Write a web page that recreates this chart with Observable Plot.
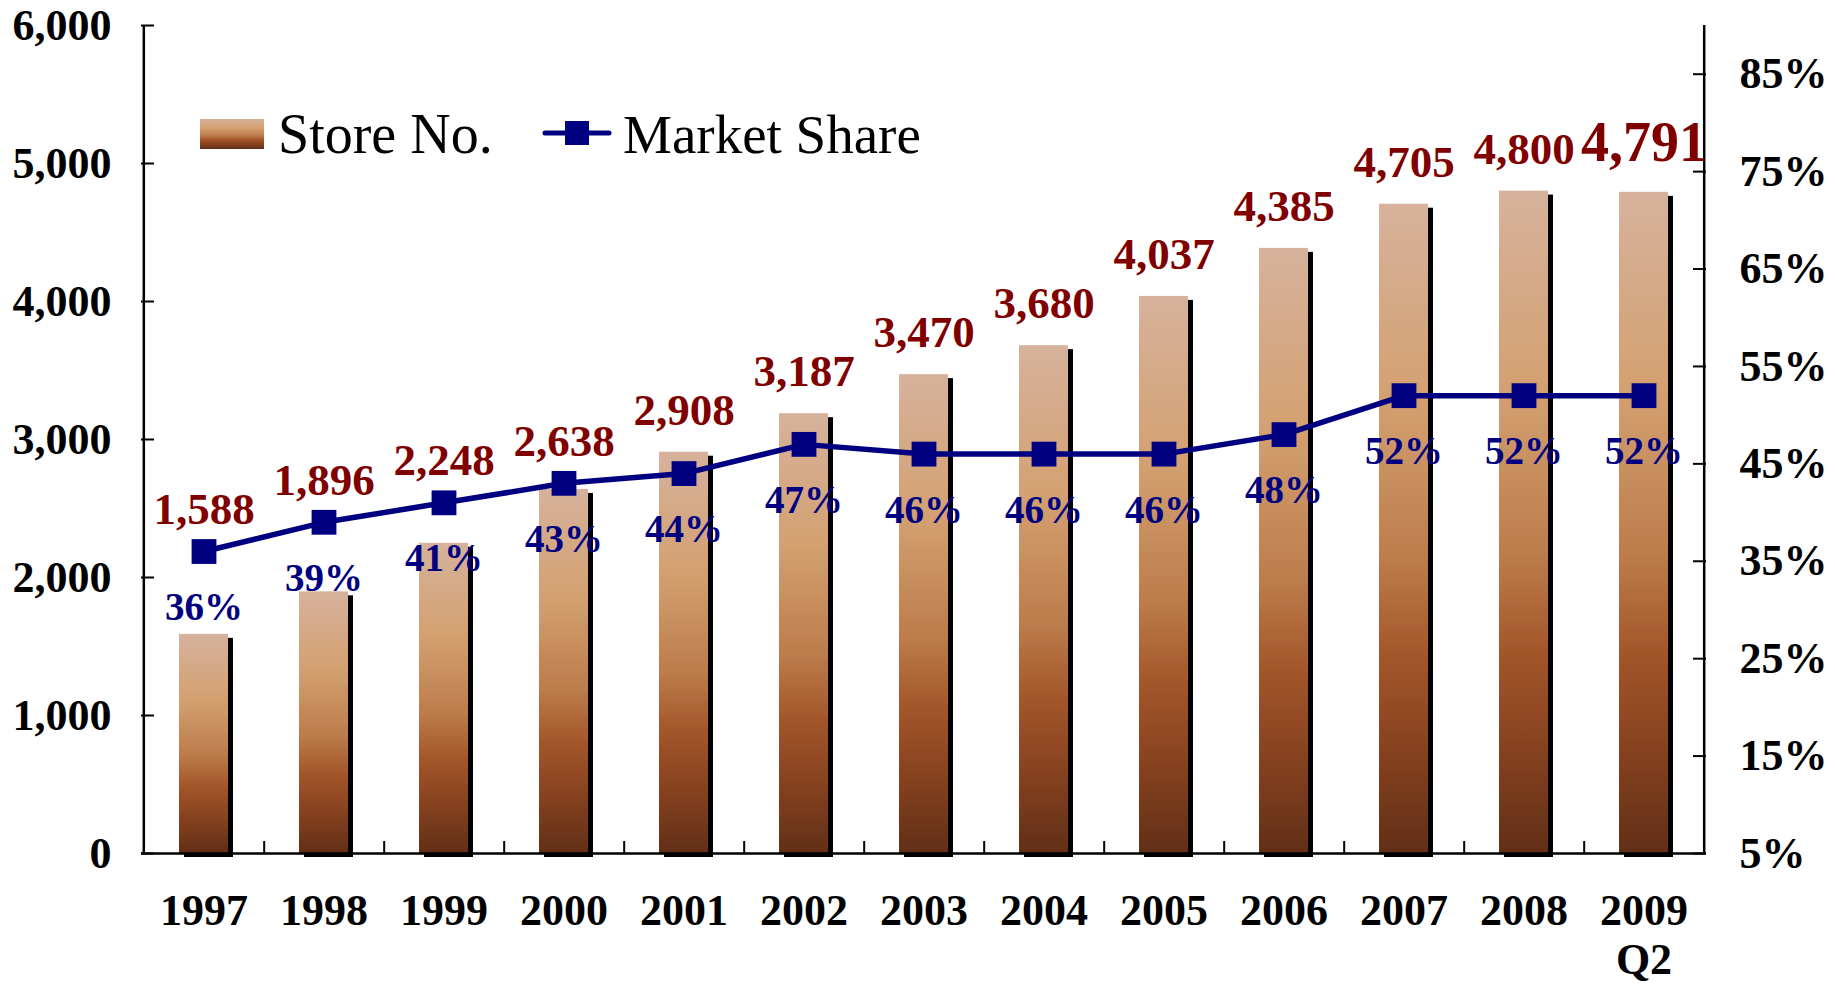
<!DOCTYPE html>
<html>
<head>
<meta charset="utf-8">
<script src="https://cdn.jsdelivr.net/npm/d3@7"></script>
<script src="https://cdn.jsdelivr.net/npm/@observablehq/plot@0.6"></script>
<style>
html, body { margin: 0; padding: 0; background: #fff; }
#wrap { position: relative; width: 1835px; height: 987px; overflow: hidden; }
#legend { position: absolute; left: 0; top: 0; pointer-events: none; }
</style>
</head>
<body>
<div id="wrap"></div>
<script>
// ---- data ----
const years = ["1997", "1998", "1999", "2000", "2001", "2002", "2003", "2004", "2005", "2006", "2007", "2008", "2009\nQ2"];
const stores = [1588, 1896, 2248, 2638, 2908, 3187, 3470, 3680, 4037, 4385, 4705, 4800, 4791];
const shares = [36, 39, 41, 43, 44, 47, 46, 46, 46, 48, 52, 52, 52];
const leftTicks = [0, 1000, 2000, 3000, 4000, 5000, 6000];
const rightTicks = [5, 15, 25, 35, 45, 55, 65, 75, 85];
const storeDomain = [0, 6000];
const shareDomain = [5, 90];
const legendLabels = ["Store No.", "Market Share"];

// ---- layout ----
const W = 1835, H = 987, mL = 141, mR = 129, mT = 25, mB = 134;
const plotW = W - mL - mR, plotH = H - mT - mB;
const step = plotW / years.length;
const font = "'Liberation Serif', 'Times New Roman', Times, serif";
const navy = "#000080", maroon = "#800000";

// map share (%) onto the store scale (secondary axis)
const toStore = s => (s - shareDomain[0]) / (shareDomain[1] - shareDomain[0]) * (storeDomain[1] - storeDomain[0]) + storeDomain[0];
const fromStore = v => (v - storeDomain[0]) / (storeDomain[1] - storeDomain[0]) * (shareDomain[1] - shareDomain[0]) + shareDomain[0];

const data = years.map((y, i) => ({
  year: y,
  store: stores[i],
  share: shares[i],
  shareY: toStore(shares[i]),
  labelY: Math.max(stores[i], toStore(shares[i]))
}));

const tickLenUnits = 12 * (storeDomain[1] - storeDomain[0]) / plotH;
const fmt = d3.format(",");

const chart = Plot.plot({
  width: W, height: H,
  marginLeft: mL, marginRight: mR, marginTop: mT, marginBottom: mB,
  style: { fontFamily: font, background: "#fff", overflow: "visible", color: "#000" },
  x: { domain: years, paddingInner: 0.593, paddingOuter: 0.2965 },
  y: { domain: storeDomain },
  marks: [
    // shadows
    Plot.barY(data, { x: "year", y: "store", fill: "#000", dx: 5, dy: 4 }),
    // bars
    Plot.barY(data, { x: "year", y: "store", fill: "url(#barGrad)" }),
    // axis lines
    Plot.ruleY([0], { stroke: "#000", strokeWidth: 2.5 }),
    Plot.ruleX([years[0]], { x: d => d, y1: storeDomain[0], y2: storeDomain[1], dx: -step / 2, stroke: "#000", strokeWidth: 2.5 }),
    Plot.ruleX([years[years.length - 1]], { x: d => d, y1: storeDomain[0], y2: storeDomain[1], dx: step / 2, stroke: "#000", strokeWidth: 2.5 }),
    // category boundary ticks
    Plot.ruleX(years.slice(0, -1), { x: d => d, y1: 0, y2: tickLenUnits, dx: step / 2, stroke: "#000", strokeWidth: 2 }),
    // left inward ticks
    Plot.tickY(leftTicks, { y: d => d, insetRight: plotW - 13, stroke: "#000", strokeWidth: 2 }),
    // right inward ticks
    Plot.tickY(rightTicks.map(toStore), { y: d => d, insetLeft: plotW - 13, stroke: "#000", strokeWidth: 2 }),
    // axes labels
    Plot.axisY(leftTicks, { anchor: "left", tickSize: 0, tickPadding: 30, tickFormat: fmt, label: null, fontSize: 44, fontWeight: "bold" }),
    Plot.axisY(rightTicks.map(toStore), { anchor: "right", tickSize: 0, tickPadding: 33, tickFormat: d => Math.round(fromStore(d)) + "%", label: null, fontSize: 44, fontWeight: "bold" }),
    Plot.axisX({ tickSize: 0, tickPadding: 36, label: null, fontSize: 44, fontWeight: "bold", lineHeight: 1.12 }),
    // market share line
    Plot.line(data, { x: "year", y: "shareY", stroke: navy, strokeWidth: 5.5 }),
    Plot.dot(data, { x: "year", y: "shareY", symbol: "square", r: 14, fill: navy, stroke: null }),
    // labels
    Plot.text(data, { x: "year", y: "shareY", text: d => d.share + "%", dy: 56, fill: navy, fontSize: 39, fontWeight: "bold" }),
    Plot.text(data.slice(0, -1), { x: "year", y: "labelY", text: d => fmt(d.store), dy: -42, fill: maroon, fontSize: 45, fontWeight: "bold" }),
    Plot.text(data.slice(-1), { x: "year", y: "labelY", text: d => fmt(d.store), dy: -49, fill: maroon, fontSize: 56, fontWeight: "bold" })
  ]
});

const svgNode = chart.tagName.toLowerCase() === "svg" ? chart : chart.querySelector("svg");
const defs = d3.select(svgNode).insert("defs", ":first-child");
const grad = defs.append("linearGradient").attr("id", "barGrad")
  .attr("x1", 0).attr("y1", 0).attr("x2", 0).attr("y2", 1);
[[0, "#D6B29C"], [0.3, "#D4A070"], [0.55, "#BC7C4C"], [0.7, "#A3552A"], [0.85, "#84411E"], [1, "#622F17"]]
  .forEach(([o, c]) => grad.append("stop").attr("offset", o).attr("stop-color", c));

const wrap = document.getElementById("wrap");
wrap.appendChild(chart);

// legend overlay
const leg = d3.select(wrap).append("svg").attr("id", "legend").attr("width", 1000).attr("height", 200)
  .style("font-family", font);
leg.append("rect").attr("x", 200).attr("y", 119).attr("width", 64).attr("height", 30).attr("fill", "url(#barGrad)");
leg.append("text").attr("x", 278).attr("y", 153).attr("font-size", 56).attr("fill", "#000").text(legendLabels[0]);
leg.append("line").attr("x1", 545).attr("x2", 609).attr("y1", 133).attr("y2", 133)
  .attr("stroke", navy).attr("stroke-width", 5).attr("stroke-linecap", "round");
leg.append("rect").attr("x", 565).attr("y", 121).attr("width", 24).attr("height", 24).attr("fill", navy);
leg.append("text").attr("x", 623).attr("y", 153).attr("font-size", 55).attr("fill", "#000").text(legendLabels[1]);
</script>
</body>
</html>
